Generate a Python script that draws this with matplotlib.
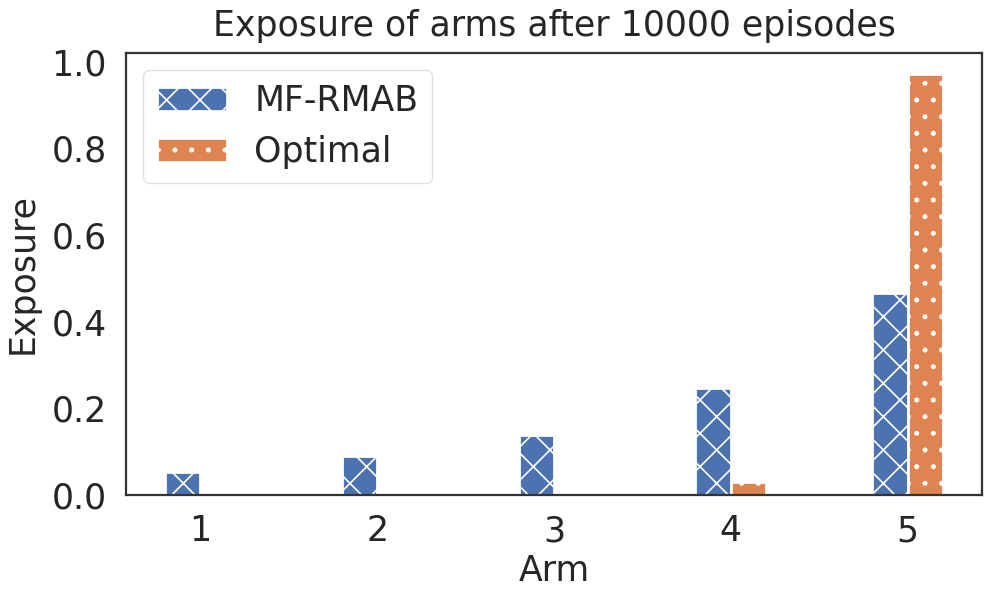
import numpy as np
import matplotlib
matplotlib.use("Agg")
import matplotlib.pyplot as plt
import seaborn as sns

sns.set_style("white")
plt.rcParams["font.family"] = ["DejaVu Sans"]
plt.rcParams["font.size"] = 12.5
plt.rcParams["hatch.color"] = "white"
plt.rcParams["hatch.linewidth"] = 0.6
plt.rcParams["axes.edgecolor"] = ".2"
plt.rcParams["axes.linewidth"] = 0.8

arms = [1, 2, 3, 4, 5]
mf_rmab = [0.054, 0.090, 0.139, 0.246, 0.466]
optimal = [0.0, 0.0, 0.0, 0.029, 0.972]

colors = sns.color_palette("deep")
x = np.array(arms)
w = 0.2

fig, ax = plt.subplots(figsize=(5, 3), dpi=200)
ax.bar(x - w / 2, mf_rmab, width=w, color=colors[0], hatch="xx", label="MF-RMAB")
ax.bar(x + w / 2, optimal, width=w, color=colors[1], hatch="..", label="Optimal")
ax.set_xticks(arms)
ax.set_xlabel("Arm", labelpad=2)
ax.set_ylabel("Exposure", labelpad=4)
ax.set_title("Exposure of arms after 10000 episodes", fontsize=12.5)
leg = ax.legend(loc="upper left")
leg.get_frame().set_edgecolor("0.85")
leg.get_frame().set_linewidth(0.5)
fig.subplots_adjust(left=0.126, right=0.982, top=0.912, bottom=0.175)
fig.savefig("out.png", dpi=200)
